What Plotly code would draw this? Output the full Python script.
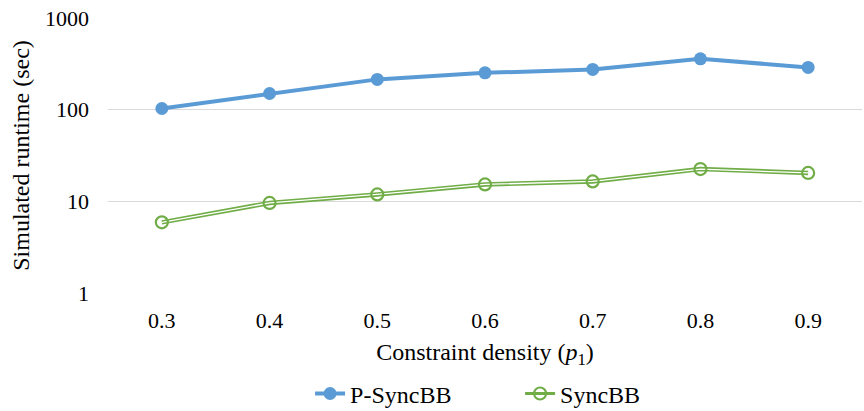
import plotly.graph_objects as go

# Constraint density values and simulated runtimes (seconds)
densities = ["0.3", "0.4", "0.5", "0.6", "0.7", "0.8", "0.9"]
p_syncbb = [103, 150, 214, 252, 275, 359, 289]
syncbb = [5.9, 9.6, 11.9, 15.3, 16.5, 22.5, 20.4]

BLUE = "#5b9bd5"
GREEN = "#70ad47"
FONT = "'Liberation Serif', 'Times New Roman', Times, serif"

fig = go.Figure()

fig.add_trace(go.Scatter(
    x=densities, y=p_syncbb, name="P-SyncBB", mode="lines+markers",
    line=dict(color=BLUE, width=4),
    marker=dict(symbol="circle", size=13, color=BLUE),
))

# SyncBB is drawn as a double line: a wide green stroke with a thin white core
fig.add_trace(go.Scatter(
    x=densities, y=syncbb, name="SyncBB", mode="lines",
    line=dict(color=GREEN, width=4.5), showlegend=False, hoverinfo="skip",
))
fig.add_trace(go.Scatter(
    x=densities, y=syncbb, name="SyncBB", mode="lines",
    line=dict(color="white", width=1.3), showlegend=False, hoverinfo="skip",
))
fig.add_trace(go.Scatter(
    x=densities, y=syncbb, name="SyncBB", mode="markers",
    marker=dict(symbol="circle-open", size=12, color=GREEN, line=dict(width=2.2)),
    showlegend=False,
))
# legend entry for SyncBB
fig.add_trace(go.Scatter(
    x=[None], y=[None], name="SyncBB", mode="lines+markers",
    line=dict(color=GREEN, width=3),
    marker=dict(symbol="circle-open", size=12, color=GREEN, line=dict(width=2.2)),
))

fig.update_layout(
    width=864, height=411,
    margin=dict(l=108, r=2, t=18, b=118, autoexpand=False),
    paper_bgcolor="white", plot_bgcolor="white",
    font=dict(family=FONT, size=22, color="#000000"),
    showlegend=True,
    legend=dict(orientation="h", x=0.268, xanchor="left", y=-0.285, yanchor="top",
                font=dict(family=FONT, size=24), itemwidth=30,
                entrywidth=165, traceorder="normal"),
)

fig.update_xaxes(
    type="category", range=[-0.5, 6.5], autorange=False,
    showgrid=False, showline=False, zeroline=False,
    ticks="", ticklabelstandoff=12,
    tickfont=dict(family=FONT, size=22),
    title=dict(text="Constraint density (<i>p</i><sub>1</sub>)", standoff=11,
               font=dict(family=FONT, size=24)),
)
fig.update_yaxes(
    type="log", range=[0, 3], tickvals=[1, 10, 100, 1000],
    ticktext=["1", "10", "100", "1000"],
    showgrid=True, gridcolor="#d9d9d9", gridwidth=1.3,
    showline=False, zeroline=False, ticks="", ticklabelstandoff=18,
    tickfont=dict(family=FONT, size=22),
    title=dict(text="Simulated runtime (sec)", standoff=8,
               font=dict(family=FONT, size=24)),
)

fig.write_html("out.html")
